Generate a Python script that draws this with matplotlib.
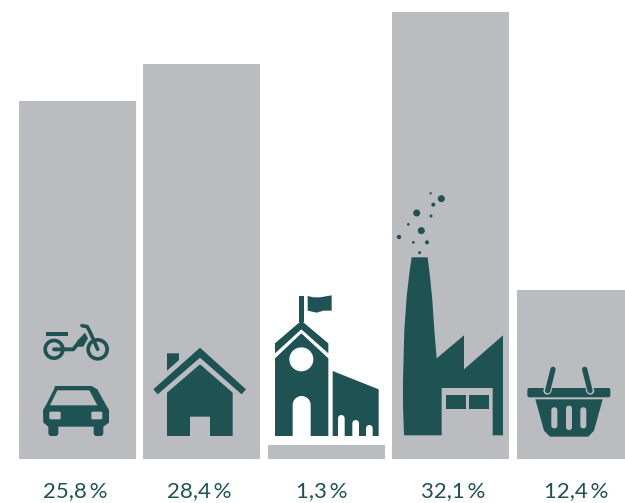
import matplotlib
matplotlib.use("Agg")
import matplotlib.pyplot as plt
from matplotlib.patches import Polygon, Circle, FancyBboxPatch
import numpy as np

labels = ["25,8\u2009%", "28,4\u2009%", "1,3\u2009%", "32,1\u2009%", "12,4\u2009%"]
# bar heights (not quite the same as the printed labels)
heights = [25.7, 28.36, 1.0, 32.1, 12.13]

grey = "#bbbcc0"
dark = "#1f5353"

W, H = 625, 503
fig = plt.figure(figsize=(W / 100, H / 100), dpi=100)

# bars
ax = fig.add_axes([0, (H - 459) / H, 1, 459 / H])
ax.bar(range(5), heights, width=117 / 124.5, color=grey)
ax.set_xlim(-77.2 / 124.5, (W - 77.2) / 124.5)
ax.set_ylim(0, 459 / 13.93)
ax.axis("off")

# overlay in pixels for the icons and labels
ov = fig.add_axes([0, 0, 1, 1])
ov.set_xlim(0, W)
ov.set_ylim(H, 0)
ov.axis("off")
ov.patch.set_alpha(0)

label_x = [75, 199, 322, 453, 576]
for x, s in zip(label_x, labels):
    ov.text(x, 491, s, ha="center", va="center", fontsize=16, color=dark, family=["Lato", "DejaVu Sans"])


def conv(pts, ox, oy):
    return [(ox + a / 3, oy + b / 3) for a, b in pts]


def poly(pts, ox, oy, color=dark, lw=0):
    ov.add_patch(Polygon(conv(pts, ox, oy), closed=True, fc=color, ec=color, lw=lw, joinstyle="round"))


def circ(x, y, r, ox, oy, color=dark):
    ov.add_patch(Circle((ox + x / 3, oy + y / 3), r / 3, fc=color, ec="none"))


def line(pts, ox, oy, lw, color=dark):
    p = conv(pts, ox, oy)
    ov.plot([a for a, b in p], [b for a, b in p], color=color, lw=lw, solid_capstyle="round", solid_joinstyle="round")


def round_rect(x0, y0, x1, y1, r, ox, oy, color=dark):
    ov.add_patch(FancyBboxPatch((ox + (x0 + r) / 3, oy + (y0 + r) / 3), (x1 - x0 - 2 * r) / 3, (y1 - y0 - 2 * r) / 3,
                                boxstyle="round,pad=%f" % (r / 3), fc=color, ec="none"))


def arch(x0, x1, top, bottom, ox, oy, color=grey):
    # door shape with a round top
    r = (x1 - x0) / 2
    t = np.linspace(np.pi, 0, 20)
    pts = [(x0, bottom)] + [((x0 + x1) / 2 + r * np.cos(a), top + r - r * np.sin(a)) for a in t] + [(x1, bottom)]
    poly(pts, ox, oy, color)


# moped
ox, oy = 20, 310
for cx, rr in [(102, 32), (233, 34)]:
    circ(cx, 118, rr, ox, oy)
    circ(cx, 118, rr - 11, ox, oy, grey)
poly([(78, 67), (143, 67), (143, 79), (78, 79)], ox, oy)
line([(102, 118), (160, 118), (178, 95)], ox, oy, 2.8)
poly([(172, 92), (195, 68), (204, 85), (190, 110), (172, 110)], ox, oy)
line([(186, 47), (202, 50), (212, 70), (233, 118)], ox, oy, 2.6)

# car
poly([(105, 228), (215, 228), (232, 238), (258, 285), (267, 300), (267, 338), (250, 350), (250, 372), (245, 378),
      (226, 378), (221, 372), (221, 350), (115, 350), (115, 372), (110, 378), (90, 378), (85, 372), (85, 350),
      (70, 338), (69, 300), (78, 285), (102, 238)], ox, oy)
poly([(112, 241), (208, 241), (232, 286), (90, 286)], ox, oy, grey)
round_rect(88, 305, 122, 328, 4, ox, oy, grey)
round_rect(214, 305, 247, 328, 4, ox, oy, grey)

# house
poly([(441, 130), (477, 130), (477, 150), (441, 182)], ox, oy)
poly([(540, 113), (678, 238), (665, 253), (540, 143), (413, 253), (400, 238)], ox, oy)
poly([(540, 163), (638, 248), (638, 378), (570, 378), (570, 320), (510, 320), (510, 378), (441, 378), (441, 248)], ox, oy)

# school
ox, oy = 260, 280
poly([(117, 48), (132, 48), (132, 125), (117, 125)], ox, oy)
poly([(143, 48), (160, 52), (180, 52), (215, 46), (215, 92), (190, 92), (170, 98), (143, 92)], ox, oy)
poly([(124, 122), (205, 190), (205, 220), (124, 148), (45, 220), (45, 190)], ox, oy)
poly([(124, 160), (205, 235), (205, 468), (45, 468), (45, 235)], ox, oy)
circ(124, 238, 36, ox, oy, "white")
arch(98, 152, 348, 468, ox, oy, "white")
poly([(218, 273), (356, 328), (356, 468), (218, 468)], ox, oy)
arch(234, 254, 405, 468, ox, oy, "white")
arch(277, 297, 420, 468, ox, oy, "white")
arch(318, 338, 435, 468, ox, oy, "white")

# factory
ox, oy = 390, 180
poly([(65, 232), (113, 232), (120, 290), (127, 360), (133, 450), (140, 535), (222, 466), (222, 568), (339, 466),
      (339, 766), (308, 766), (308, 624), (155, 624), (155, 766), (42, 766), (39, 680), (39, 600), (43, 450),
      (50, 350), (58, 280)], ox, oy)
poly([(168, 645), (228, 645), (228, 687), (168, 687)], ox, oy)
poly([(237, 645), (297, 645), (297, 687), (237, 687)], ox, oy)
bub_x = [122, 154, 130, 80, 123, 55, 94, 27, 70, 111, 89]
bub_y = [40, 56, 74, 99, 108, 133, 152, 171, 187, 187, 218]
bub_r = [3.5, 10.5, 6, 10.5, 4.5, 4, 10.5, 6.5, 4, 6, 4.5]
for bx, by, br in zip(bub_x, bub_y, bub_r):
    circ(bx, by, br, ox, oy)

# basket
round_rect(412, 624, 661, 652, 6, ox, oy)
line([(472, 632), (474, 628)], ox, oy, 5.8, grey)
line([(601, 632), (599, 628)], ox, oy, 5.8, grey)
line([(473, 632), (489, 568)], ox, oy, 3.8)
line([(600, 632), (584, 568)], ox, oy, 3.8)
poly([(436, 658), (638, 658), (612, 752), (595, 770), (480, 770), (462, 752)], ox, oy)
round_rect(484, 682, 502, 745, 8, ox, oy, grey)
round_rect(528, 677, 546, 750, 8, ox, oy, grey)
round_rect(571, 682, 589, 745, 8, ox, oy, grey)

fig.savefig("out.png", dpi=100)
